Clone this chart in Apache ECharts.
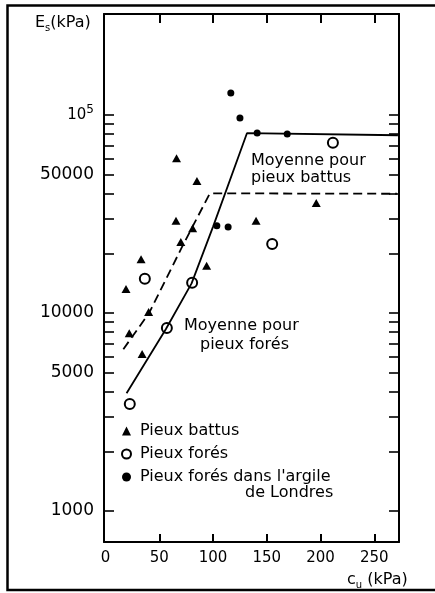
<!DOCTYPE html>
<html>
<head>
<meta charset="utf-8">
<script src="https://cdn.jsdelivr.net/npm/echarts@6/dist/echarts.min.js"></script>
<style>
html, body { margin: 0; padding: 0; background: #fff; }
#chart { width: 435px; height: 593px; }
</style>
</head>
<body>
<div id="chart"></div>
<script>
// Pieux battus (triangles)
const battusCu = [66, 85, 65.5, 81, 70, 33, 19, 94, 40, 22, 34, 140, 196]
const battusEs = [60500, 46400, 29200, 26800, 22800, 18700, 13200, 17300, 10100, 7900, 6200, 29200, 35900]
// Pieux forés (cercles vides)
const foresCu = [36.5, 80.5, 57, 22.5, 155, 211.5]
const foresEs = [14900, 14200, 8400, 3470, 22300, 72300]
// Pieux forés dans l'argile de Londres (points)
const londresCu = [116.5, 125, 141, 169, 103.5, 114]
const londresEs = [129000, 96600, 81100, 80200, 27600, 27200]
// moyenne pour pieux forés (trait plein)
const moyForesCu = [19.5, 56, 80, 100, 131.5, 272]
const moyForesEs = [3930, 8280, 14100, 27300, 80900, 79000]
// moyenne pour pieux battus (tirets)
const moyBattusCu = [16.5, 40.5, 71, 97, 271]
const moyBattusEs = [6560, 10000, 21500, 40200, 40000]

const xTicks = [50, 100, 150, 200, 250]
const xLabels = [0, 50, 100, 150, 200, 250]
const yTicks = [1000, 2000, 3000, 4000, 5000, 6000, 7000, 8000, 9000,
  10000, 20000, 30000, 40000, 50000, 60000, 70000, 80000, 90000, 100000]
const yLabels = [1000, 5000, 10000, 50000, 100000]

const battusName = 'Pieux battus'
const foresName = 'Pieux forés'
const londresName = "Pieux forés dans l'argile de Londres"

const font = 'DejaVu Sans'
const ink = '#000'

const pairs = (xs, ys) => xs.map((x, i) => [x, ys[i]])

const chart = echarts.init(document.getElementById('chart'))

const axisBase = {
  axisLine: { show: true, onZero: false, lineStyle: { color: ink, width: 2 } },
  splitLine: { show: false },
}

chart.setOption({
  backgroundColor: '#fff',
  animation: false,
  grid: { left: 104, top: 14, right: 36, bottom: 51, outerBoundsMode: 'none' },
  xAxis: [
    {
      ...axisBase,
      type: 'value', position: 'bottom', min: -1.5, max: 273,
      axisTick: { show: true, inside: true, length: 8, customValues: xTicks, lineStyle: { color: ink, width: 2 } },
      axisLabel: { customValues: xLabels, margin: 9, fontSize: 15, fontFamily: font, color: ink },
    },
    {
      ...axisBase,
      type: 'value', position: 'top', min: -1.5, max: 273,
      axisTick: { show: true, inside: true, length: 9, customValues: xTicks, lineStyle: { color: ink, width: 2 } },
      axisLabel: { show: false },
    },
  ],
  yAxis: [
    {
      ...axisBase,
      type: 'log', logBase: 10, position: 'left', min: 697, max: 323600,
      axisTick: { show: true, inside: true, length: 10, customValues: yTicks, lineStyle: { color: ink, width: 1.6 } },
      axisLabel: {
        customValues: yLabels, margin: 10, fontSize: 17, fontFamily: font, color: ink,
        formatter: v => Math.round(v) === 100000 ? '{b|10}{p|5}' : String(Math.round(v)),
        rich: {
          b: { fontSize: 15, fontFamily: font, color: ink, lineHeight: 22 },
          p: { fontSize: 12, fontFamily: font, color: ink, lineHeight: 6, verticalAlign: 'top' },
        },
      },
    },
    {
      ...axisBase,
      type: 'log', logBase: 10, position: 'right', min: 697, max: 323600,
      axisTick: { show: true, inside: true, length: 10, customValues: yTicks, lineStyle: { color: ink, width: 1.6 } },
      axisLabel: { show: false },
    },
  ],
  legend: {
    orient: 'vertical', left: 121, top: 423, padding: 0, itemGap: 7,
    itemWidth: 9, itemHeight: 9,
    data: [battusName, foresName, londresName],
    formatter: name => name === londresName ? "Pieux forés dans l'argile" : name,
    textStyle: { fontSize: 16, fontFamily: font, color: ink, padding: [0, 0, 0, 4] },
  },
  series: [
    {
      name: battusName, type: 'scatter', symbol: 'triangle', symbolSize: [9, 8],
      itemStyle: { color: ink, opacity: 1 },
      data: pairs(battusCu, battusEs),
    },
    {
      name: foresName, type: 'scatter', symbol: 'emptyCircle', symbolSize: 10,
      itemStyle: { color: ink, borderWidth: 1.8, opacity: 1 },
      data: pairs(foresCu, foresEs),
    },
    {
      name: londresName, type: 'scatter', symbol: 'circle', symbolSize: 7,
      itemStyle: { color: ink, opacity: 1 },
      data: pairs(londresCu, londresEs),
    },
    {
      name: 'Moyenne pour pieux forés', type: 'line', showSymbol: false, symbol: 'none',
      lineStyle: { color: ink, width: 1.8 },
      data: pairs(moyForesCu, moyForesEs),
    },
    {
      name: 'Moyenne pour pieux battus', type: 'line', showSymbol: false, symbol: 'none',
      lineStyle: { color: ink, width: 1.8, type: [9, 5] },
      data: pairs(moyBattusCu, moyBattusEs),
    },
  ],
  graphic: [
    // cadre
    { type: 'rect', shape: { x: 7.5, y: 5.5, width: 440, height: 584.5 }, style: { fill: null, stroke: ink, lineWidth: 2.5 }, silent: true },
    {
      type: 'text', x: 35, y: 23,
      style: {
        text: '{m|E}{s|s}{m|(kPa)}', verticalAlign: 'middle',
        rich: {
          m: { fontSize: 16, fontFamily: font, fill: ink, lineHeight: 20 },
          s: { fontSize: 10, fontFamily: font, fill: ink, lineHeight: 10, verticalAlign: 'bottom' },
        },
      },
    },
    {
      type: 'text', x: 347, y: 580,
      style: {
        text: '{m|c}{s|u}{m| (kPa)}', verticalAlign: 'middle',
        rich: {
          m: { fontSize: 16, fontFamily: font, fill: ink, lineHeight: 20 },
          s: { fontSize: 10, fontFamily: font, fill: ink, lineHeight: 10, verticalAlign: 'bottom' },
        },
      },
    },
    {
      type: 'text', x: 251, y: 169,
      style: { text: 'Moyenne pour\npieux battus', fontSize: 16, fontFamily: font, fill: ink, lineHeight: 17, verticalAlign: 'middle' },
    },
    {
      type: 'text', x: 184, y: 326,
      style: { text: 'Moyenne pour', fontSize: 16, fontFamily: font, fill: ink, verticalAlign: 'middle' },
    },
    {
      type: 'text', x: 200, y: 345,
      style: { text: 'pieux forés', fontSize: 16, fontFamily: font, fill: ink, verticalAlign: 'middle' },
    },
    {
      type: 'text', x: 245, y: 493,
      style: { text: 'de Londres', fontSize: 16, fontFamily: font, fill: ink, verticalAlign: 'middle' },
    },
  ],
})
</script>
</body>
</html>
